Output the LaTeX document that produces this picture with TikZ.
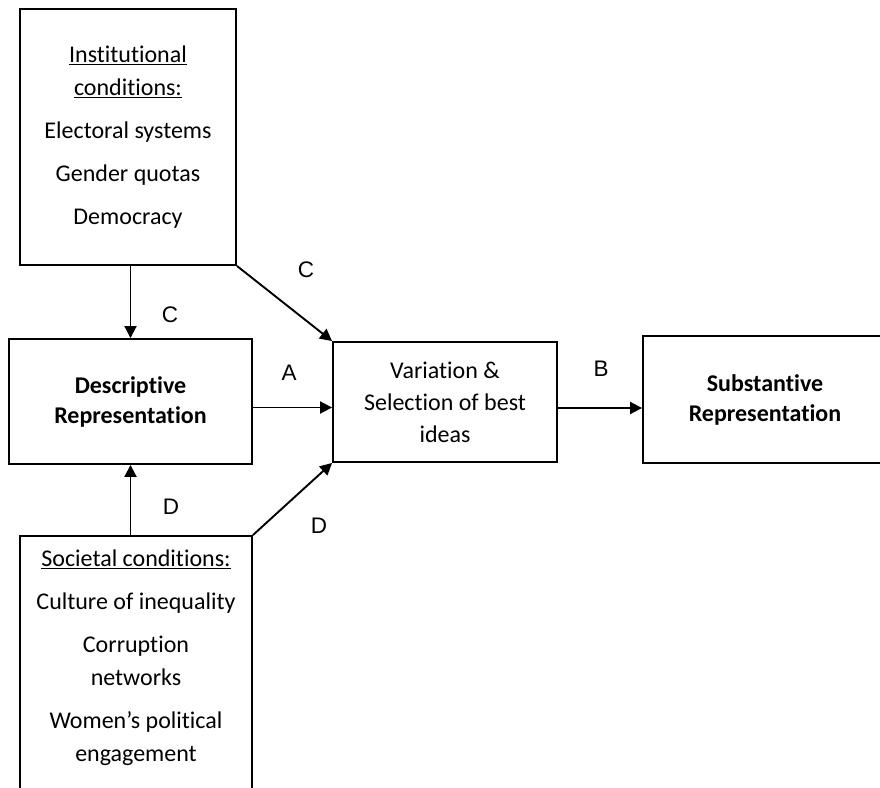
\documentclass[tikz,border=0pt]{standalone}
\usepackage{fontspec}
\setmainfont{Carlito}[Ligatures=NoCommon]
\newfontfamily\lblfont{Liberation Sans}
\usepackage{tikz}
\usetikzlibrary{arrows.meta,calc}

\begin{document}
\begin{tikzpicture}[x=1pt,y=-1pt,
                    line width=1.9pt,
                    box/.style n args={2}{draw,rectangle,inner sep=0pt,
                    minimum width=#1pt,
                    minimum height=#2pt,
                    align=center},
                    txt/.style={font=\fontsize{24}{33}\selectfont},
                    bld/.style={font=\fontsize{24}{30}\selectfont\bfseries},
                    lbl/.style={font=\fontsize{22.5}{24}\lblfont},
                    arr/.style={-{Triangle[length=12pt,width=12pt]}}]
    \useasboundingbox (0,0) rectangle (880,787);
    \node[box={216}{256},txt](inst) at (128,137) {\underline{Institutional}\\
        \underline{conditions:}\\[10pt]
        Electoral systems\\[10pt]
        Gender quotas\\[10pt]
        Democracy};
    \node[box={243}{125},bld](desc) at (130.5,401.5) {Descriptive\\Representation};
    \node[box={224}{120},txt,font=\fontsize{24}{32}\selectfont](var) at (445,402) {Variation \&\\Selection of best\\ideas};
    \node[box={244}{127},bld](subs) at (765,399.5) {Substantive\\Representation};
    % box runs past the lower edge of the page
    \node[box={232}{270}](soc) at (136,671) {};
    \node[txt,align=center](soctxt) at (136,658) {\underline{Societal conditions:}\\[10pt]
        Culture of inequality\\[10pt]
        Corruption\\
        networks\\[10pt]
        Women's political\\
        engagement};

    \draw[arr] (inst.south -| desc) -- (desc.north);
    \draw[arr] (inst.south east) -- (var.north west);
    \draw[arr] (soc.north -| desc) -- (desc.south);
    \draw[arr] (soc.north east) -- (var.south west);
    \draw[arr] ([yshift=-6pt]desc.east) -- ([yshift=-6pt]desc.east -| var.west);
    \draw[arr] ([yshift=-6pt]var.east) -- ([yshift=-6pt]var.east -| subs.west);

    \node[lbl](lblC1) at (306,270) {C};
    \node[lbl](lblC2) at (170,315) {C};
    \node[lbl](lblA) at (289,373) {A};
    \node[lbl](lblB) at (601,369) {B};
    \node[lbl](lblD1) at (171,507) {D};
    \node[lbl](lblD2) at (319,526) {D};
\end{tikzpicture}
\end{document}
